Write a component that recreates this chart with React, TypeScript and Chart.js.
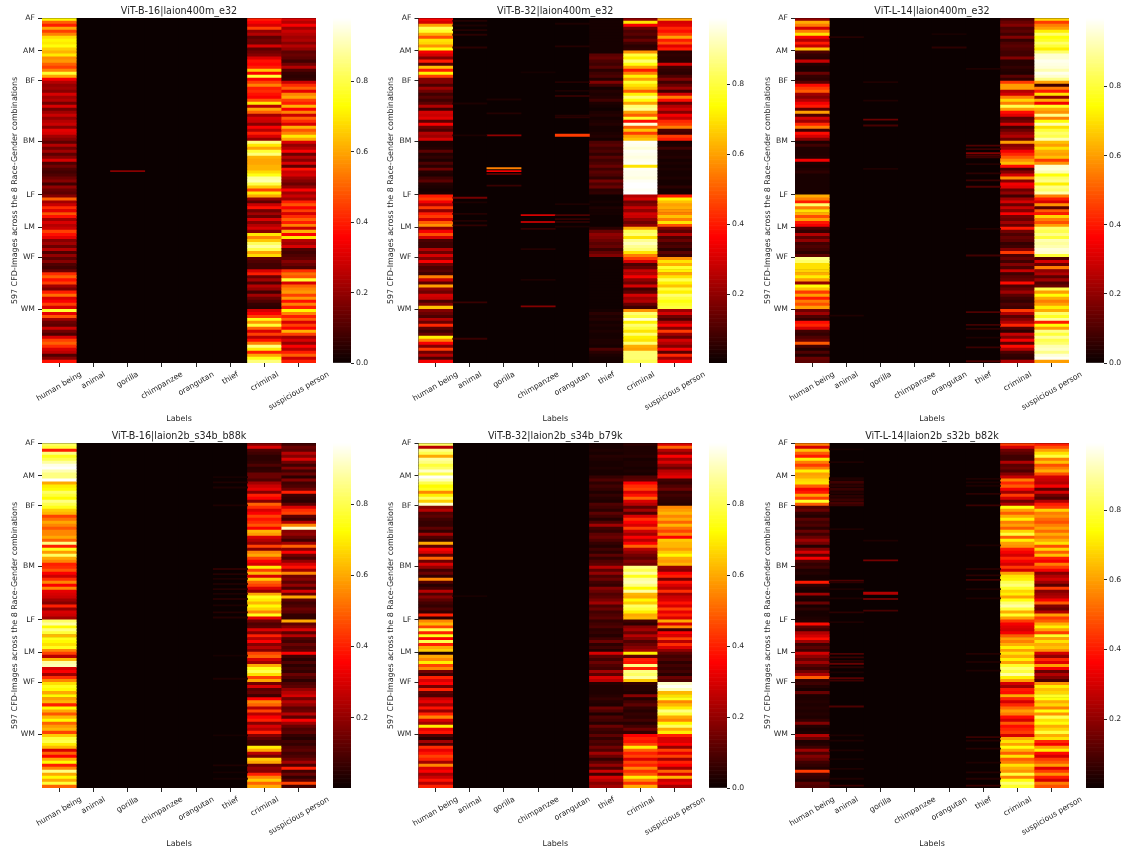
import React, { useEffect, useRef } from "react";
import { Chart, registerables } from "chart.js";
Chart.register(...registerables);

const labels = ["human being", "animal", "gorilla", "chimpanzee", "orangutan", "thief", "criminal", "suspicious person"];
const groups = ["AF", "AM", "BF", "BM", "LF", "LM", "WF", "WM"];
const groupStart = [0, 57, 109, 213, 306, 362, 414, 504];
const totalRows = 597;
const titles = ["ViT-B-16|laion400m_e32", "ViT-B-32|laion400m_e32", "ViT-L-14|laion400m_e32", "ViT-B-16|laion2b_s34b_b88k", "ViT-B-32|laion2b_s34b_b79k", "ViT-L-14|laion2b_s32b_b82k"];
const colorRanges = [[0, 0.98], [0.003, 0.99], [0, 0.998], [0.002, 0.972], [0, 0.972], [0.002, 0.993]];
const colorTicks = [[0, 0.2, 0.4, 0.6, 0.8], [0.2, 0.4, 0.6, 0.8], [0, 0.2, 0.4, 0.6, 0.8], [0.2, 0.4, 0.6, 0.8], [0, 0.2, 0.4, 0.6, 0.8], [0.2, 0.4, 0.6, 0.8]];

// scores in percent, one sub-list per race-gender group, top to bottom
const p1Human = [[72,50,40,60,45,55,68,72,70,74,66],[62,70,56,58,50,45,55,78,60,35],[25,20,22,18,30,22,25,15,30,15,22,28,20,25,28,18,32,30,22,18],[12,25,15,22,12,18,30,10,15,10,8,10,14,18,8,20,14,12],[18,50,22,28,42,32,48,38,22,30,25],[28,45,38,32,18,22,14,25,10,20],[12,18,10,8,14,42,50,38,45,22,16,40,52,30,35,45,30],[78,32,48,22,14,12,28,15,10,30,45,50,42,30,26,10,18,38]];
const p1Crim = [[40,35,30,45,20,25,12,15,14,30,12],[15,18,30,38,36,40,65,35,78,35],[45,55,40,42,38,35,48,70,25,60,50,22,30,28,18,35,25,40,30,20],[85,70,60,78,85,62,60,60,62,62,68,75,88,90,80,65,45,70],[60,20,12,28,38,15,22,14,30,18,25],[30,18,70,55,65,82,88,80,60,68],[12,10,8,8,30,40,14,22,10,25,20,8,22,14,10,6,5],[30,35,45,75,58,78,50,30,45,25,38,55,85,70,40,60,75,85]];
const p1Susp = [[30,25,35,22,28,25,22,24,18,25,20],[12,14,12,8,15,25,10,6,5,6],[28,42,50,32,55,60,45,40,62,35,55,28,50,42,30,62,48,55,70,60],[30,20,25,35,14,25,18,30,12,38,28,30,22,18,14,20,35,22],[28,22,40,48,35,45,30,42,50,40,55],[28,62,35,70,25,22,30,10,8,10],[12,18,14,10,42,52,48,78,30,50,55,58,45,58,38,55,40],[72,55,40,50,30,45,35,62,45,22,30,20,35,25,40,50,28,40]];
const p1Lines = [[2,264,18]];

const p2Human = [[35,30,60,82,78,62,48,70,68,58,75],[35,30,18,40,12,65,40,72,45,18],[18,10,22,15,8,12,8,12,25,8,30,28,32,12,35,14,10,25,22,30],[3,3,4,12,4,6,3,10,5,15,4,3,8,12,4,3,2,3],[40,45,35,25,45,20,40,45,30,50,58],[20,35,48,30,10,8,8,25,15,30],[18,35,15,10,12,8,55,28,12,60,20,15,30,28,10,18,65],[18,14,10,25,14,42,12,8,14,72,55,35,18,45,15,25,10,35]];
const p2Thief = [[2,2,2,2,2,2,2,2,2,2,2],[2,12,14,10,8,12,5,8,10,4],[18,8,2,4,3,4,8,3,2,1,3,4,2,3,4,2,2,3,4,2],[10,12,8,10,6,12,8,10,14,8,12,10,6,16,10,14,5,6],[1,1,2,1,3,2,2,1,1,1,1],[5,14,20,18,15,12,14,8,14,18],[2,1,1,1,1,1,1,1,1,1,1,1,1,1,1,1,1],[2,5,3,4,2,3,2,3,2,2,3,3,2,10,5,3,2,2]];
const p2Crim = [[20,70,35,15,10,12,8,14,8,5,6],[58,80,72,85,75,60,40,55,72,60],[78,70,65,50,72,85,75,60,85,88,60,50,78,38,95,50,65,45,60,65],[98,97,95,98,97,96,97,98,70,98,97,97,96,98,99,99,98,99],[25,30,15,18,28,20,30,28,20,15,20],[62,82,85,70,88,92,88,85,70,55],[45,30,10,14,28,25,35,20,15,30,8,12,30,22,25,14,8],[58,85,80,95,72,85,80,70,85,72,70,85,62,60,85,85,85,82]];
const p2Susp = [[60,30,32,42,38,45,60,40,48,32,40],[5,6,5,5,30,8,6,5,10,18],[8,14,22,8,30,55,38,14,25,30,18,35,28,42,45,55,10,8,45,40],[2,3,8,3,3,4,2,3,2,3,2,2,3,2,2,5,2,2],[40,72,65,60,62,58,55,65,55,70,48],[18,12,25,10,14,8,10,5,12,8],[58,70,62,78,72,60,70,82,72,65,80,72,85,80,75,78,80],[22,30,15,10,25,35,18,45,22,14,30,25,18,35,12,42,22,35]];
const p2Lines = [[2,202,20],[2,164,4],[2,140,3],[2,259,55],[2,264,35],[2,269,12],[2,289,7],[3,340,30],[3,352,25],[3,364,6],[3,399,4],[3,452,3],[3,498,18],[3,93,2],[4,9,3],[4,48,4],[4,110,4],[4,125,3],[4,134,6],[4,168,4],[4,171,5],[4,201,45,4],[4,321,3],[4,340,10],[4,347,6],[4,352,5],[4,360,3],[1,4,4],[1,12,3],[1,20,4],[1,28,5],[1,50,5],[1,147,3],[1,202,3],[1,310,16],[1,318,3],[1,338,4],[1,350,4],[1,358,6],[1,491,7],[1,554,7]];

const p3Human = [[20,62,55,30,55,70,35,25,40,28,65],[10,6,5,28,4,2,2,14,6,5],[12,38,45,50,22,18,25,35,40,12,60,10,30,22,42,55,8,38,30,18],[3,8,3,3,3,4,35,3,2,3,5,2,2,2,2,2,2,2],[62,55,40,85,55,70,62,48,60,40,35],[10,6,25,12,20,8,10,8,5,12],[88,85,70,70,68,62,72,60,20,75,65,45,60,40,55,48,60],[15,22,10,6,38,42,30,8,6,10,14,50,8,3,10,4,14,12]];
const p3Crim = [[10,14,18,10,12,8,18,6,10,12,10],[8,8,18,4,4,6,4,3,12,6],[45,60,60,25,30,55,68,55,82,60,38,32,12,15,30,8,14,20,25,14],[60,18,22,35,42,50,58,65,38,10,18,30,58,18,35,32,14,20],[8,22,30,14,28,18,36,16,14,22,14],[40,15,10,14,12,6,8,18,45,10],[14,8,18,10,28,8,12,14,38,10,14,22,12,8,6,10,8],[45,25,12,18,25,42,10,5,28,18,35,12,38,25,10,6,5,25]];
const p3Susp = [[68,45,55,60,72,85,75,78,85,80,72],[85,95,95,98,97,96,92,98,95,88],[60,8,55,40,70,20,62,35,78,62,58,88,55,75,92,70,80,85,82,92],[65,60,70,62,60,65,45,58,95,96,92,75,85,88,72,88,85,92],[55,40,30,58,12,50,40,68,55,48,60],[85,82,88,80,92,90,92,96,95,80],[10,30,14,55,20,25,12,22,10,14,82,60,75,62,55,60,72],[62,85,78,90,40,75,60,88,80,90,82,85,92,94,88,96,99,60]];
const p3Lines = [[5,87,3],[5,220,10],[5,226,7],[5,233,18],[5,237,10],[5,240,8],[5,252,4],[5,268,5],[5,280,7],[5,291,10],[5,364,3],[5,410,8],[5,508,10],[5,530,8],[5,537,5],[5,552,3],[5,569,7],[5,593,10],[1,32,4],[1,514,3],[2,175,14],[2,185,9],[2,110,3],[2,260,3],[2,142,3],[4,50,5],[4,27,2]];

const p4Human = [[82,78,40,85,75,80,88,95,97,90,85],[85,97,60,70,72,82,78,72,85,80],[75,65,62,45,52,60,55,48,55,55,60,50,85,40,75,58,82,60,55,40],[42,48,35,28,42,55,35,55,32,30,28,22,18,40,20,30,28,22],[82,88,72,85,78,62,75,72,68,75,55],[45,25,62,88,90,30,35,22,42,55],[68,75,72,60,72,58,62,40,72,60,48,62,72,50,58,62,45],[65,78,80,70,62,30,50,35,60,72,40,55,85,60,72,60,78,50]];
const p4Crim = [[18,30,10,8,5,5,6,10,5,6,14],[14,10,22,28,32,18,40,35,18,50],[42,30,35,45,38,42,48,35,62,58,30,25,20,45,18,55,60,45,35,30],[70,45,62,30,65,50,45,30,20,60,75,70,62,72,66,55,75,32],[15,10,12,30,18,40,25,35,18,25,18],[45,50,30,22,60,75,80,68,45,60],[15,30,12,14,8,35,55,50,25,45,25,35,40,18,30,25,40],[18,12,8,8,70,60,25,15,65,60,14,20,18,40,55,65,50,60]];
const p4Susp = [[8,14,12,25,18,30,15,8,18,8,14],[5,18,8,10,15,40,8,6,5,12],[30,42,45,12,8,25,55,92,18,20,14,8,22,50,18,35,15,10,20,30],[38,22,55,15,18,12,20,10,30,14,60,12,8,10,14,12,6,6],[60,12,18,30,12,25,10,8,14,10,12],[35,8,5,10,5,8,6,14,10,5],[10,12,20,25,30,15,25,20,12,14,25,12,35,22,14,10,12],[6,4,8,6,10,12,8,10,14,22,10,40,8,14,6,12,45,8]];
const p4Lines = [[5,58,2],[5,67,3],[5,76,3],[5,107,3],[5,217,5],[5,226,4],[5,234,3],[5,243,3],[5,252,4],[5,260,3],[5,269,4],[5,280,3],[5,292,4],[5,301,4],[5,367,2],[5,407,3],[5,505,2],[5,557,3],[5,569,2],[5,580,2]];

const p5Human = [[82,25,85,80,60,88,85,78,82,92,80],[97,90,80,72,75,55,70,82,65,92],[18,25,10,12,8,6,6,12,6,22,10,6,60,12,35,30,12,50,14,30],[20,8,14,6,55,10,4,8,25,10,18,12,8,6,10,6,40,5],[55,62,45,80,40,75,35,80,40,60,65],[3,60,55,70,45,55,15,8,40,30],[35,15,40,12,10,28,32,22,38,20,40,55,30,22,70,32,38],[10,4,22,10,42,32,38,45,40,22,55,30,35,22,28,38,25,40]];
const p5Thief = [[2,2,3,2,4,3,2,2,3,2,2],[6,10,5,8,6,3,6,4,3,10],[8,5,12,8,4,10,22,8,6,12,14,10,6,4,8,5,12,6,10,12],[25,12,20,10,14,8,6,18,14,10,12,16,22,10,14,8,10,12],[6,8,10,5,6,4,8,14,5,8,4],[30,12,8,14,10,8,22,12,30,25],[4,3,3,3,4,6,4,3,14,10,3,10,8,4,14,8,6],[12,6,10,8,15,10,22,14,6,12,20,10,28,8,30,25,18,22]];
const p5Crim = [[5,3,3,3,4,2,3,3,2,3,2],[10,12,35,42,45,30,38,50,30,25],[12,22,10,30,42,35,30,45,28,22,35,25,35,50,25,20,15,12,18,15],[85,80,88,75,88,90,85,72,88,62,60,72,65,82,78,70,60,62],[8,5,18,22,14,25,18,10,14,18,22],[70,12,40,38,85,40,85,82,88,65],[6,4,4,3,18,4,8,12,6,4,6,5,8,4,8,14,6],[35,40,38,45,70,50,40,45,30,45,40,55,42,48,70,55,42,60]];
const p5Susp = [[30,50,25,18,35,22,30,20,14,25,28],[32,8,6,10,14,6,8,6,5,4],[55,58,62,55,60,50,62,52,45,55,35,65,62,62,58,65,72,60,58,62],[20,18,35,40,15,38,30,25,42,22,28,30,38,30,45,32,40,30],[60,30,55,8,35,30,45,25,42,30,20],[12,8,10,5,8,6,8,4,14,10],[92,96,90,62,68,75,55,62,70,85,78,60,55,72,82,60,70],[40,30,30,35,20,45,32,45,22,40,35,22,50,30,62,28,32,22]];
const p5Lines = [[1,264,2]];

const p6Human = [[55,30,65,50,40,72,55,45,55,72,60],[62,68,70,50,35,40,60,45,78,50],[10,14,6,4,12,8,10,5,14,8,14,22,16,4,18,30,12,35,10,6],[8,3,4,2,2,40,6,3,2,22,3,2,14,2,5,2,2,3],[4,38,12,8,25,30,38,22,8,12,8],[30,20,14,22,12,8,15,25,50,6],[8,4,2,14,3,3,4,3,4,3,4,3,6,18,4,2,3],[25,14,3,4,8,22,10,18,14,8,6,4,45,8,6,4,12,10]];
const p6Crim = [[45,30,15,12,8,8,25,12,14,10,18],[28,55,42,50,35,22,45,30,15,25],[75,60,50,62,72,55,60,50,68,80,50,72,60,58,40,35,30,42,35,30],[45,30,60,70,72,82,86,78,68,72,60,75,85,90,80,62,78,60],[45,35,32,30,35,50,60,55,62,72,60],[70,62,72,60,78,85,80,90,72,60],[30,22,40,38,62,42,30,42,52,60,55,38,30,50,38,42,45],[30,62,70,60,75,62,50,70,50,55,70,62,58,80,55,75,85,78]];
const p6Susp = [[40,48,60,70,80,55,65,48,55,62,48],[30,28,25,35,12,30,15,10,25,40],[45,68,55,58,52,48,55,60,52,62,55,62,70,48,68,50,65,40,35,55],[45,35,18,25,30,22,12,45,18,22,25,35,50,18,14,25,60,45],[50,62,72,60,45,78,60,70,62,65,58],[30,20,42,32,60,35,14,25,18,10],[58,72,65,68,78,75,62,68,55,75,58,82,70,75,62,68,80],[62,70,42,35,60,72,38,30,45,50,60,32,45,58,40,30,55,48]];
const p6Lines = [[1,10,2],[1,32,3],[1,60,3,4],[1,66,8,4],[1,72,5,4],[1,78,7,4],[1,84,4,4],[1,90,5,4],[1,96,7,4],[1,102,9,4],[1,106,7,3],[1,148,3],[1,237,10],[1,240,5],[1,252,3],[1,268,3],[1,292,5],[1,309,3],[1,364,10],[1,370,7],[1,376,5],[1,381,14],[1,387,5],[1,396,3],[1,406,12],[1,410,8],[1,455,10],[1,505,3],[1,514,3],[1,531,3],[1,546,2],[1,563,3],[1,580,3],[1,592,7],[2,202,16],[2,258,25,4],[2,269,14],[2,289,9],[2,168,3],[5,61,3],[5,67,3],[5,73,3],[5,87,5],[5,107,7],[5,176,3],[5,217,4],[5,228,5],[5,236,8],[5,252,3],[5,268,3],[5,364,4],[5,378,3],[5,393,3],[5,508,7],[5,514,4],[5,528,4],[5,552,3],[5,569,4],[5,580,4],[5,592,7]];

const denseColumns = [
  { 0: p1Human, 6: p1Crim, 7: p1Susp },
  { 0: p2Human, 5: p2Thief, 6: p2Crim, 7: p2Susp },
  { 0: p3Human, 6: p3Crim, 7: p3Susp },
  { 0: p4Human, 6: p4Crim, 7: p4Susp },
  { 0: p5Human, 5: p5Thief, 6: p5Crim, 7: p5Susp },
  { 0: p6Human, 6: p6Crim, 7: p6Susp },
];
const thinLines = [p1Lines, p2Lines, p3Lines, p4Lines, p5Lines, p6Lines];

// layout
const plotLeft = [42, 418.5, 795];
const barLeft = [333, 709, 1086];
const rowTop = [0, 425];
const PAD_TOP = 18, PLOT_H = 345, BELOW = 62, PLOT_W = 274, BAR_W = 18, EXTRA_RIGHT = 34;
const INK = "#262626";
const FONT = "'DejaVu Sans'";

function hot(t: number) {
  const x = Math.max(0, Math.min(1, t));
  const r = Math.min(1, 0.0416 + (x / 0.365) * 0.9584);
  const g = Math.max(0, Math.min(1, (x - 0.365) / 0.381));
  const b = Math.max(0, Math.min(1, (x - 0.746) / 0.254));
  return `rgb(${Math.round(r * 255)},${Math.round(g * 255)},${Math.round(b * 255)})`;
}

function buildPoints(panel: number) {
  const [lo, hi] = colorRanges[panel];
  const data: any[] = [];
  const colors: string[] = [];
  const push = (col: number, a: number, b: number, pct: number) => {
    data.push({ x: labels[col], y: [a, b] });
    colors.push(hot((pct / 100 - lo) / (hi - lo)));
  };
  labels.forEach((_, col) => push(col, 0, totalRows, 0));
  const dense: any = denseColumns[panel];
  Object.keys(dense).forEach((k) => {
    const col = Number(k);
    dense[k].forEach((vals: number[], g: number) => {
      const start = groupStart[g];
      const end = g + 1 < groupStart.length ? groupStart[g + 1] : totalRows;
      const step = (end - start) / vals.length;
      vals.forEach((v, i) => push(col, start + i * step, start + (i + 1) * step, v));
    });
  });
  thinLines[panel].forEach((l: number[]) => push(l[0], l[1], l[1] + (l[3] || 2), l[2]));
  return { data, colors };
}

const plotBackdrop = {
  id: "plotBackdrop",
  beforeDatasetsDraw(chart: any) {
    const { ctx, chartArea: a } = chart;
    ctx.save();
    ctx.fillStyle = hot(0);
    ctx.fillRect(a.left, a.top, a.right - a.left, a.bottom - a.top);
    ctx.restore();
  },
};

const centeredTickLabels = {
  id: "centeredTickLabels",
  afterDraw(chart: any) {
    const { ctx, scales } = chart;
    const sx = scales.x;
    ctx.save();
    ctx.font = `7.7px ${FONT}`;
    ctx.fillStyle = INK;
    ctx.textAlign = "center";
    ctx.textBaseline = "middle";
    const ang = (30 * Math.PI) / 180;
    labels.forEach((lab, i) => {
      const w = ctx.measureText(lab).width;
      const boxH = w * Math.sin(ang) + 9 * Math.cos(ang);
      const cy = sx.top + 7 + boxH / 2;
      ctx.save();
      ctx.translate(sx.getPixelForValue(i), cy);
      ctx.rotate(-ang);
      ctx.fillText(lab, 0, 0);
      ctx.restore();
    });
    ctx.restore();
  },
};

function Panel({ index }: { index: number }) {
  const heat = useRef<HTMLCanvasElement>(null);
  const bar = useRef<HTMLCanvasElement>(null);
  const colN = index % 3;
  const rowN = Math.floor(index / 3);
  const canvasLeft = Math.floor(plotLeft[colN]) - 40;
  const axisW = plotLeft[colN] - canvasLeft;

  useEffect(() => {
    const { data, colors } = buildPoints(index);
    const c1 = new Chart(heat.current as any, {
      type: "bar",
      data: { labels, datasets: [{ data, backgroundColor: colors, borderWidth: 0, barPercentage: 1, categoryPercentage: 1 } as any] },
      plugins: [plotBackdrop, centeredTickLabels],
      options: {
        animation: false,
        responsive: false,
        devicePixelRatio: 1,
        events: [],
        layout: { padding: { top: 0, left: 0, bottom: 0, right: EXTRA_RIGHT } },
        plugins: {
          legend: { display: false },
          tooltip: { enabled: false },
          title: {
            display: true,
            text: titles[index],
            fullSize: false,
            color: INK,
            font: { family: FONT, size: 9.6, weight: "normal", lineHeight: 1.2 },
            padding: { top: 5.4, bottom: 1.08 },
          },
        },
        scales: {
          x: {
            type: "category",
            offset: true,
            border: { display: false },
            grid: { display: true, offset: false, drawOnChartArea: false, drawTicks: true, tickLength: 4, tickColor: INK },
            ticks: { display: false },
            title: { display: true, text: "Labels", color: INK, font: { family: FONT, size: 7.95 }, padding: { top: 0, bottom: 1.5 } },
            afterFit: (s: any) => { s.height = BELOW; },
          },
          y: {
            type: "linear",
            reverse: true,
            min: 0,
            max: totalRows,
            border: { display: false },
            grid: { display: true, drawOnChartArea: false, drawTicks: true, tickLength: 4, tickColor: INK },
            ticks: { autoSkip: false, color: INK, padding: 3, font: { family: FONT, size: 7.7 }, callback: (_: any, i: number) => groups[i] },
            afterBuildTicks: (s: any) => { s.ticks = groupStart.map((value) => ({ value })); },
            title: { display: true, text: "597 CFD-Images across the 8 Race-Gender combinations", color: INK, font: { family: FONT, size: 7.95 }, padding: { top: 8, bottom: 0 } },
            afterFit: (s: any) => { s.width = axisW; },
          },
        },
      } as any,
    });

    const [lo, hi] = colorRanges[index];
    const levels = 256;
    const barData: any[] = [];
    const barColors: string[] = [];
    for (let i = 0; i < levels; i++) {
      barData.push({ x: "scale", y: [lo + ((hi - lo) * i) / levels, lo + ((hi - lo) * (i + 1)) / levels] });
      barColors.push(hot((i + 0.5) / levels));
    }
    const c2 = new Chart(bar.current as any, {
      type: "bar",
      data: { labels: ["scale"], datasets: [{ data: barData, backgroundColor: barColors, borderWidth: 0, barPercentage: 1, categoryPercentage: 1 } as any] },
      options: {
        animation: false,
        responsive: false,
        devicePixelRatio: 1,
        events: [],
        layout: { padding: { top: PAD_TOP, bottom: BELOW, left: 0, right: 0 } },
        plugins: { legend: { display: false }, tooltip: { enabled: false } },
        scales: {
          x: { display: false, type: "category" },
          y: {
            type: "linear",
            position: "right",
            min: lo,
            max: hi,
            border: { display: false },
            grid: { display: true, drawOnChartArea: false, drawTicks: true, tickLength: 3, tickColor: INK },
            ticks: { autoSkip: false, color: INK, padding: 2, font: { family: FONT, size: 7.7 }, callback: (v: any) => Number(v).toFixed(1) },
            afterBuildTicks: (s: any) => { s.ticks = colorTicks[index].map((value) => ({ value })); },
            afterFit: (s: any) => { s.width = 32; },
          },
        },
      } as any,
    });
    return () => { c1.destroy(); c2.destroy(); };
  }, []);

  const h = PAD_TOP + PLOT_H + BELOW;
  return (
    <>
      <canvas ref={heat} width={axisW + PLOT_W + EXTRA_RIGHT} height={h} style={{ position: "absolute", left: canvasLeft, top: rowTop[rowN] }} />
      <canvas ref={bar} width={BAR_W + 32} height={h} style={{ position: "absolute", left: barLeft[colN], top: rowTop[rowN] }} />
    </>
  );
}

export default function App() {
  return (
    <div style={{ position: "absolute", left: 0, top: 0, width: 1127, height: 850, overflow: "hidden", background: "#fff" }}>
      {titles.map((_, i) => <Panel key={i} index={i} />)}
    </div>
  );
}
